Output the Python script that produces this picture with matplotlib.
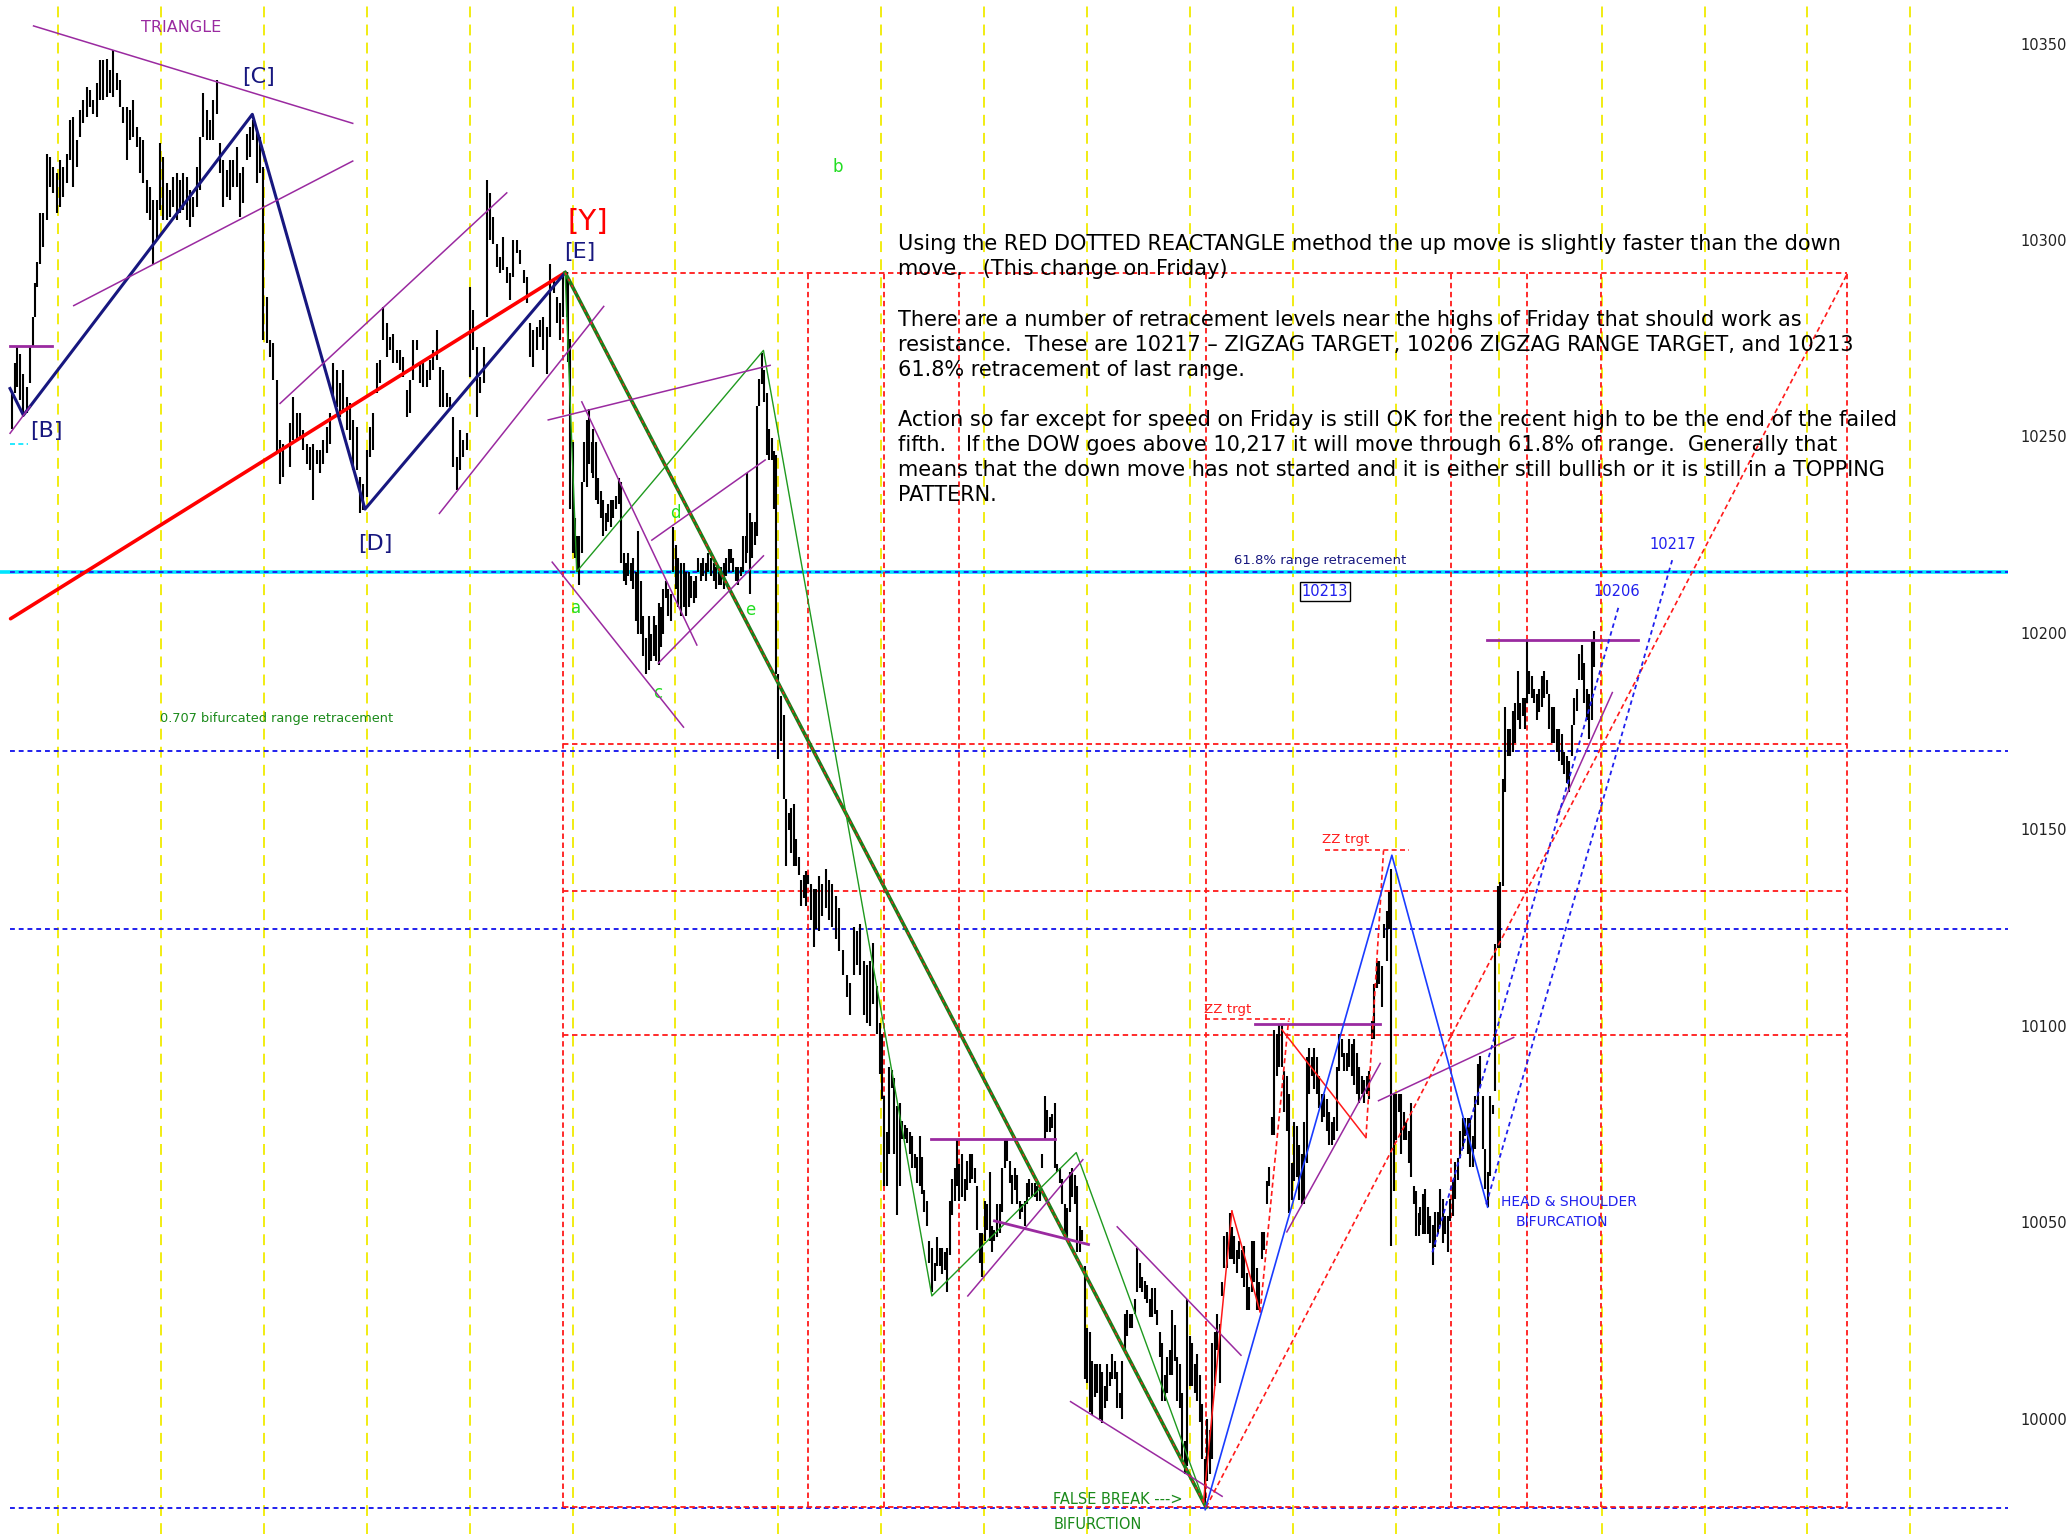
import matplotlib
matplotlib.use("Agg")
import matplotlib.pyplot as plt
import numpy as np

plt.rcParams['font.family'] = ['DejaVu Sans']

# ---------------- price bars (time units, high, low) ----------------
t_a = [8.8, 11.4, 12.6, 15.1, 17.7, 20.2, 22.7, 25.2, 26.5, 27.8,
       30.3, 32.8, 35.3, 37.9, 40.4, 42.9, 45.4, 48.0, 50.5, 53.0,
       55.5, 58.1, 60.6, 63.1, 65.6, 68.1, 70.7, 73.2, 75.7, 78.2,
       80.8, 83.3, 85.8, 88.3, 90.9, 93.4, 95.9, 98.4, 101.0, 103.5,
       106.0, 108.5, 111.1, 113.6, 116.1, 118.6, 121.2, 123.7, 126.2, 128.7,
       131.2, 133.8, 136.3, 138.8, 141.3, 143.9, 146.4, 148.9, 151.4, 154.0,
       156.5, 159.0, 161.5, 164.1, 166.6, 169.1, 171.6, 174.2, 176.7, 179.2,
       181.7, 184.3, 186.8, 189.3, 191.8, 194.3, 196.9, 199.4, 201.9, 204.4,
       207.0, 209.5, 212.0]
high_a = [10261.0, 10268.6, 10272.8, 10271.1, 10266.0, 10262.6, 10272.8, 10280.5, 10289.0, 10294.5,
          10306.8, 10306.8, 10322.0, 10321.2, 10318.7, 10317.0, 10320.4, 10318.7, 10322.0, 10330.5,
          10331.4, 10325.4, 10333.1, 10335.6, 10339.0, 10338.2, 10335.6, 10339.9, 10345.8, 10345.8,
          10346.2, 10343.3, 10348.4, 10342.4, 10340.7, 10333.9, 10333.9, 10333.1, 10335.6, 10328.8,
          10326.3, 10325.4, 10315.3, 10313.6, 10310.2, 10310.2, 10324.6, 10321.2, 10314.4, 10312.7,
          10316.1, 10317.0, 10315.3, 10317.0, 10316.1, 10312.7, 10311.0, 10318.7, 10326.3, 10337.3,
          10333.1, 10330.5, 10335.6, 10340.7, 10324.6, 10320.4, 10317.8, 10320.4, 10320.4, 10323.7,
          10317.0, 10318.7, 10327.1, 10328.8, 10330.5, 10328.0, 10326.3, 10318.7, 10285.6, 10274.5,
          10273.7, 10264.3, 10249.1]
low_a = [10252.0, 10261.0, 10262.6, 10259.3, 10255.0, 10255.9, 10263.5, 10272.8, 10280.5, 10288.1,
         10294.0, 10298.3, 10305.1, 10313.6, 10311.9, 10306.8, 10308.5, 10311.0, 10314.4, 10320.4,
         10313.6, 10318.7, 10326.3, 10329.7, 10331.4, 10333.9, 10332.2, 10331.4, 10335.6, 10335.6,
         10336.5, 10337.3, 10336.5, 10338.2, 10333.9, 10329.7, 10320.4, 10325.4, 10326.3, 10323.7,
         10317.0, 10314.4, 10306.8, 10305.1, 10294.0, 10300.0, 10307.6, 10305.1, 10305.1, 10305.9,
         10308.5, 10305.1, 10306.8, 10307.6, 10305.1, 10303.4, 10305.9, 10308.5, 10312.7, 10326.3,
         10325.4, 10325.4, 10325.4, 10332.2, 10317.0, 10308.5, 10311.0, 10310.2, 10313.6, 10313.6,
         10305.9, 10309.3, 10320.4, 10321.2, 10325.4, 10314.4, 10317.0, 10274.5, 10273.7, 10270.3,
         10264.3, 10245.7, 10238.0]

t_b = [214.5, 219.6, 222.1, 224.6, 227.1, 229.7, 232.2, 234.7, 237.2, 239.8,
       242.3, 244.8, 247.3, 249.9, 252.4, 254.9, 257.4, 260.0, 262.5, 265.0,
       267.5, 270.1, 272.6, 275.1, 277.6, 280.1, 282.7, 285.2, 287.7, 290.2,
       292.8, 295.3, 297.8, 300.3, 302.9, 305.4, 307.9, 310.4, 313.0, 315.5,
       318.0, 320.5, 323.1, 325.6, 328.1, 330.6, 333.2, 335.7, 338.2, 340.7,
       343.2, 345.8, 348.3, 350.8, 353.3, 355.9, 358.4, 360.9, 363.4, 366.0,
       368.5, 371.0, 373.5, 376.1, 378.6, 381.1, 383.6, 386.2, 388.7, 391.2,
       393.7, 396.3, 398.8, 401.3, 403.8, 406.3, 408.9, 411.4, 413.9, 416.4,
       419.0, 421.5, 424.0, 426.5]
high_b = [10248.2, 10253.3, 10260.1, 10255.9, 10255.9, 10251.6, 10248.2, 10247.4, 10248.2, 10246.5,
          10246.5, 10249.1, 10252.5, 10255.9, 10268.6, 10266.9, 10263.5, 10266.9, 10260.1, 10258.4,
          10254.2, 10252.5, 10239.7, 10238.0, 10246.5, 10252.5, 10255.9, 10268.6, 10269.4, 10283.0,
          10278.8, 10275.4, 10276.2, 10272.0, 10272.0, 10270.3, 10261.8, 10264.3, 10274.5, 10274.5,
          10268.6, 10268.6, 10266.9, 10269.4, 10272.0, 10277.1, 10267.7, 10266.9, 10261.0, 10260.1,
          10255.0, 10244.8, 10251.6, 10249.1, 10250.8, 10288.1, 10282.2, 10272.8, 10265.2, 10272.8,
          10315.3, 10311.9, 10305.9, 10299.1, 10295.7, 10300.8, 10293.2, 10291.5, 10300.0, 10300.0,
          10297.4, 10292.4, 10290.7, 10278.8, 10277.1, 10277.9, 10279.6, 10280.5, 10277.9, 10294.0,
          10289.8, 10285.6, 10283.9, 10291.5]
low_b = [10239.7, 10242.3, 10249.1, 10249.1, 10249.9, 10246.5, 10243.1, 10241.4, 10233.8, 10243.1,
         10240.6, 10243.1, 10245.7, 10248.2, 10260.1, 10257.6, 10255.0, 10255.9, 10251.6, 10249.1,
         10241.4, 10241.4, 10230.4, 10231.3, 10234.6, 10244.8, 10246.5, 10261.0, 10263.5, 10274.5,
         10270.3, 10272.0, 10268.6, 10268.6, 10266.9, 10265.2, 10255.0, 10255.9, 10264.3, 10272.0,
         10263.5, 10262.6, 10262.6, 10264.3, 10266.9, 10269.4, 10257.6, 10257.6, 10257.6, 10257.6,
         10242.3, 10236.3, 10241.4, 10244.8, 10246.5, 10265.2, 10272.0, 10255.0, 10261.0, 10263.5,
         10280.5, 10300.0, 10299.1, 10293.2, 10291.5, 10292.4, 10289.0, 10284.7, 10290.7, 10296.6,
         10294.0, 10289.0, 10283.9, 10270.3, 10267.7, 10272.0, 10275.4, 10272.0, 10266.0, 10275.4,
         10286.4, 10278.8, 10274.5, 10280.5]

t_c = [429.0, 430.3, 431.6, 433.6, 435.4, 436.6, 438.4, 440.4, 442.2, 444.2,
       446.2, 448.0, 449.2, 451.3, 453.0, 454.8, 456.8, 458.6, 460.6, 462.4,
       464.4, 466.2, 468.2, 469.9, 472.0, 473.7, 475.7, 477.5, 479.5, 481.3,
       483.3, 485.1, 487.1, 488.9, 490.9, 492.7, 494.7, 496.4, 498.5, 500.2,
       502.2, 504.0, 506.0, 507.8, 509.8, 511.6, 513.6, 515.4, 517.4, 519.2,
       521.2, 522.9, 525.0, 526.7, 528.7, 530.5, 532.5, 534.3, 536.3, 538.1,
       540.1, 541.9, 543.9, 545.7, 547.7, 549.4, 551.5, 553.2, 555.2, 557.0,
       559.0, 560.8, 562.8, 564.6, 565.8, 567.9, 569.6, 571.7, 573.4, 574.9,
       576.7, 578.5, 580.5, 582.3, 584.3, 586.0, 587.6, 589.3, 591.1, 593.1,
       594.9, 596.9, 598.7, 600.7, 602.4, 604.5, 606.2, 608.3, 610.0, 612.0,
       613.8, 615.8, 617.6,
       620.0, 622.5, 625.0, 627.5, 630.0, 632.5, 635.0]
high_c = [10291.8, 10290.6, 10274.7, 10248.6, 10229.3, 10224.7, 10224.7, 10238.3, 10248.6, 10254.3,
          10257.1, 10248.6, 10252.0, 10248.6, 10239.5, 10236.0, 10233.8, 10230.4, 10232.7, 10233.8,
          10233.8, 10234.9, 10239.5, 10238.3, 10220.2, 10217.9, 10220.2, 10217.9, 10219.0, 10215.6,
          10225.9, 10213.3, 10204.2, 10198.6, 10204.2, 10199.7, 10204.2, 10202.0, 10207.7, 10206.5,
          10211.1, 10213.3, 10211.1, 10210.0, 10227.0, 10222.4, 10219.0, 10217.9, 10217.9, 10215.6,
          10215.6, 10214.5, 10213.3, 10214.5, 10219.0, 10217.9, 10219.0, 10217.9, 10220.2, 10219.0,
          10217.9, 10216.8, 10215.6, 10216.8, 10217.9, 10219.0, 10221.3, 10221.3, 10219.0, 10216.8,
          10216.8, 10216.8, 10224.7, 10224.7, 10240.6, 10230.4, 10228.1, 10228.1, 10257.7, 10264.5,
          10271.3, 10266.8, 10261.1, 10252.0, 10249.7, 10246.3, 10245.2, 10189.5, 10183.8, 10179.2,
          10157.7, 10154.2, 10155.4, 10156.5, 10147.4, 10142.9, 10137.2, 10138.3, 10139.5, 10138.3,
          10136.0, 10134.9, 10134.9,
          10138.0, 10136.0, 10140.0, 10137.0, 10136.0, 10133.0, 10130.0]
low_c = [10280.4, 10269.0, 10231.5, 10220.2, 10219.0, 10215.6, 10212.2, 10220.2, 10238.3, 10237.2,
         10242.9, 10240.6, 10239.5, 10233.8, 10232.7, 10229.3, 10224.7, 10225.9, 10228.1, 10227.0,
         10229.3, 10231.5, 10232.7, 10217.9, 10213.3, 10212.2, 10214.5, 10213.3, 10211.1, 10203.1,
         10199.7, 10199.7, 10194.0, 10189.5, 10190.6, 10192.9, 10194.0, 10192.9, 10191.8, 10196.3,
         10199.7, 10208.8, 10204.2, 10203.1, 10215.6, 10211.1, 10206.5, 10204.2, 10206.5, 10204.2,
         10206.5, 10208.8, 10207.7, 10208.8, 10215.6, 10213.3, 10214.5, 10213.3, 10215.6, 10214.5,
         10213.3, 10211.1, 10212.2, 10212.2, 10211.1, 10214.5, 10215.6, 10217.9, 10215.6, 10213.3,
         10212.2, 10214.5, 10215.6, 10217.9, 10220.2, 10210.0, 10219.0, 10222.4, 10224.7, 10257.7,
         10263.4, 10258.8, 10245.2, 10244.0, 10244.0, 10231.5, 10189.5, 10167.9, 10172.4, 10157.7,
         10140.6, 10149.7, 10144.0, 10140.6, 10140.6, 10138.3, 10130.4, 10132.6, 10130.4, 10136.0,
         10127.0, 10120.1, 10124.7,
         10124.0, 10128.0, 10130.0, 10127.0, 10125.0, 10122.0, 10119.0]

t_d = [638.5, 641.0, 643.6, 646.1, 648.6, 651.1, 653.7, 656.2, 658.7, 661.2,
       663.8, 666.3, 667.5, 668.8, 671.3, 673.3, 675.1, 677.1, 678.9, 680.9,
       682.7, 684.7, 686.5, 688.5, 690.3, 692.3, 694.0, 696.1, 697.8, 699.8,
       701.6, 703.6, 705.4, 707.4, 709.2, 711.2, 713.0, 715.0, 716.8, 718.8,
       720.5, 722.6, 724.3, 726.3, 728.1, 730.1, 731.9, 733.9, 735.7, 737.7,
       739.5, 741.5, 743.3, 745.3, 747.0, 749.1, 750.8, 752.8, 754.6, 756.6,
       758.4, 760.4, 762.2, 764.2, 766.0, 768.0, 769.8, 771.8, 773.5, 775.6,
       777.3, 779.3, 781.1, 783.1, 784.9, 786.9, 788.7, 790.7, 792.5, 794.5,
       796.3, 798.3, 800.0, 802.1, 803.8, 805.8, 807.6, 809.6, 811.4, 813.4,
       815.2, 817.2, 819.0, 821.0, 822.8, 824.8, 826.6, 828.6, 830.3, 832.4,
       834.1, 836.1, 837.9, 839.9, 841.7, 843.7, 845.5, 847.5, 849.3, 851.3,
       853.1, 855.1, 856.8, 858.9, 860.6, 862.6, 864.4, 866.4, 868.2, 870.2,
       872.0, 874.0, 875.8, 877.8, 879.6, 881.6, 883.3, 885.4, 887.1, 889.1,
       890.9, 892.9, 894.7, 896.7, 898.5, 900.5, 902.3, 904.3, 906.1, 908.1,
       909.8, 911.9, 913.6, 915.6, 917.4, 919.4, 921.2]
high_d = [10119.2, 10112.8, 10110.9, 10125.0, 10124.0, 10126.0, 10116.5, 10115.5, 10116.5, 10121.0,
          10110.0, 10100.7, 10098.0, 10082.2, 10073.0, 10089.6, 10088.7, 10086.8, 10079.5, 10080.4,
          10075.8, 10074.8, 10073.9, 10073.0, 10072.0, 10067.4, 10066.5, 10072.0, 10066.5, 10058.2,
          10055.4, 10045.2, 10043.4, 10039.7, 10046.1, 10043.4, 10043.4, 10042.4, 10043.4, 10055.4,
          10061.0, 10063.7, 10071.1, 10064.7, 10067.4, 10061.0, 10065.6, 10067.4, 10067.4, 10063.7,
          10059.1, 10047.1, 10047.1, 10055.4, 10054.5, 10062.8, 10048.9, 10048.0, 10054.5, 10054.5,
          10063.7, 10071.1, 10071.1, 10065.6, 10061.9, 10063.7, 10061.9, 10055.4, 10054.5, 10055.4,
          10060.0, 10061.0, 10060.0, 10060.0, 10059.1, 10059.1, 10067.4, 10082.2, 10078.5, 10076.7,
          10077.6, 10080.4, 10064.7, 10063.7, 10061.0, 10054.5, 10053.6, 10062.8, 10063.7, 10061.9,
          10059.1, 10048.9, 10047.9, 10038.7, 10023.0, 10022.1, 10014.7, 10013.8, 10013.8, 10013.8,
          10011.9, 10008.2, 10013.8, 10011.9, 10016.5, 10014.7, 10011.9, 10006.4, 10014.7, 10026.7,
          10027.6, 10026.7, 10026.7, 10030.4, 10043.4, 10039.7, 10035.9, 10035.0, 10034.1, 10030.4,
          10033.2, 10033.2, 10027.6, 10022.1, 10019.3, 10011.0, 10015.6, 10017.5, 10027.6, 10023.9,
          10015.6, 10013.8, 10006.4, 9994.3, 10030.4, 10021.1, 10019.3, 10013.8, 10016.5, 10011.0,
          10003.6, 9989.7, 9999.9, 9997.1, 10019.3, 10022.1, 10026.7]
low_d = [10112.8, 10107.2, 10102.6, 10112.8, 10115.5, 10112.8, 10102.6, 10100.7, 10099.8, 10105.4,
         10098.0, 10087.8, 10081.3, 10059.1, 10059.1, 10067.4, 10084.1, 10067.4, 10051.7, 10059.1,
         10071.1, 10071.1, 10070.2, 10067.4, 10063.7, 10063.7, 10060.0, 10059.1, 10057.2, 10052.6,
         10048.9, 10039.7, 10032.3, 10035.0, 10038.7, 10038.7, 10036.9, 10037.8, 10032.3, 10041.5,
         10051.7, 10055.4, 10059.1, 10055.4, 10056.3, 10055.4, 10058.2, 10060.0, 10061.0, 10060.0,
         10048.0, 10039.7, 10036.0, 10045.2, 10048.0, 10045.2, 10042.4, 10045.2, 10046.1, 10047.1,
         10052.6, 10063.7, 10065.6, 10060.0, 10054.5, 10058.2, 10054.5, 10050.8, 10052.6, 10048.9,
         10054.5, 10056.3, 10056.3, 10056.3, 10055.4, 10055.4, 10063.7, 10071.1, 10073.0, 10073.0,
         10073.9, 10063.7, 10062.8, 10060.0, 10054.5, 10047.1, 10046.1, 10052.6, 10056.3, 10054.5,
         10042.4, 10042.4, 10045.2, 10010.1, 10009.1, 10001.7, 10000.8, 10005.4, 10006.4, 9999.9,
         9998.9, 10002.6, 10004.5, 10008.2, 10010.1, 10010.1, 10002.6, 10002.6, 9999.9, 10017.5,
         10021.1, 10023.0, 10023.0, 10026.7, 10032.3, 10033.2, 10032.3, 10030.4, 10029.5, 10025.8,
         10025.8, 10026.7, 10023.9, 10015.6, 10004.5, 10004.5, 10006.4, 10011.0, 10011.0, 10014.7,
         10004.5, 10002.6, 9989.7, 9986.0, 9987.8, 10008.2, 10008.2, 10006.4, 10004.5, 9999.2,
         9989.7, 9977.6, 9984.1, 9986.0, 9989.7, 10008.2, 10017.5]

t_e = [923.6, 924.9, 926.7, 928.7, 930.7, 932.5, 934.2, 936.3, 938.0, 940.1,
       941.8, 943.8, 945.6, 947.6, 949.4, 951.4, 953.2, 955.2, 957.0, 959.0,
       960.7, 962.8, 964.5, 966.6, 968.3, 970.3, 972.1, 974.1, 975.9, 977.9,
       979.7, 981.7, 983.5, 985.5, 987.2, 989.3, 991.0, 993.1, 994.8, 996.8,
       998.6, 1000.6, 1002.4, 1004.4, 1006.2, 1008.2, 1010.0, 1012.0, 1013.8, 1015.8,
       1017.5, 1019.6, 1021.3, 1023.3, 1025.1, 1027.1, 1028.9, 1030.9, 1032.7, 1034.7,
       1036.5, 1038.5, 1040.3, 1042.3, 1044.0, 1046.1, 1047.8, 1049.8, 1051.6, 1053.1,
       1054.9, 1056.7, 1058.7, 1060.4, 1062.5, 1064.2, 1066.3, 1068.0, 1070.0, 1071.8,
       1073.8]
high_e = [10024.0, 10034.7, 10046.4, 10047.5, 10052.2, 10048.7, 10046.4, 10042.8, 10045.2, 10042.8,
          10044.0, 10037.0, 10033.5, 10045.2, 10045.2, 10038.2, 10034.7, 10047.5, 10047.5, 10060.4,
          10063.9, 10076.7, 10099.0, 10097.8, 10100.1, 10100.1, 10088.4, 10087.3, 10082.6, 10065.1,
          10075.6, 10074.4, 10069.7, 10067.4, 10075.6, 10091.9, 10094.3, 10091.9, 10094.3, 10091.9,
          10087.3, 10082.6, 10082.6, 10081.4, 10077.9, 10075.6, 10076.7, 10089.6, 10097.8, 10096.6,
          10093.1, 10093.1, 10096.6, 10095.4, 10096.6, 10093.1, 10089.6, 10087.3, 10086.1, 10087.3,
          10088.4, 10101.3, 10110.6, 10116.5, 10116.5, 10115.3, 10125.8, 10129.3, 10134.0, 10140.0,
          10082.6, 10082.6, 10082.6, 10082.6, 10077.9, 10075.6, 10073.2, 10080.3, 10059.2, 10058.0,
          10052.2]
low_e = [10009.0, 10031.2, 10038.2, 10038.2, 10040.5, 10040.5, 10039.3, 10037.0, 10040.5, 10035.8,
         10033.5, 10027.7, 10027.7, 10032.3, 10034.7, 10027.7, 10027.7, 10040.5, 10042.8, 10054.5,
         10059.2, 10072.1, 10072.1, 10087.3, 10089.6, 10089.6, 10077.9, 10073.2, 10052.2, 10055.7,
         10060.4, 10061.6, 10055.7, 10054.5, 10054.5, 10065.1, 10082.6, 10087.3, 10083.8, 10082.6,
         10079.1, 10075.6, 10076.7, 10073.2, 10069.7, 10069.7, 10070.9, 10073.2, 10088.4, 10091.9,
         10088.4, 10088.4, 10089.6, 10087.3, 10085.0, 10082.6, 10080.3, 10082.6, 10080.3, 10082.6,
         10081.4, 10096.6, 10096.6, 10109.5, 10110.6, 10104.8, 10122.3, 10116.5, 10124.7, 10044.0,
         10058.0, 10070.9, 10077.9, 10067.4, 10070.9, 10070.9, 10065.1, 10061.6, 10054.5, 10046.4,
         10046.4]

t_f = [1075.1, 1076.9, 1078.9, 1080.7, 1082.7, 1084.5, 1086.5, 1088.3, 1090.3, 1092.1,
       1094.1, 1095.8, 1097.9, 1099.6, 1101.6, 1103.4, 1105.4, 1107.2, 1109.2, 1111.0,
       1113.0, 1114.8, 1116.8, 1118.6, 1120.6, 1122.3, 1124.4, 1126.1, 1128.1, 1129.9,
       1131.9, 1133.7, 1135.7, 1137.5, 1139.5, 1141.3, 1143.3, 1145.1, 1147.1, 1148.8,
       1150.9, 1152.6, 1154.7, 1155.9, 1157.7, 1159.7, 1161.5, 1163.5, 1165.3, 1167.3,
       1169.0, 1171.1, 1172.8, 1174.8, 1176.6, 1178.6, 1180.4, 1182.4, 1184.2, 1186.2,
       1188.0, 1190.0, 1191.8, 1193.8, 1195.5, 1197.6, 1199.3, 1201.3, 1203.1, 1205.1,
       1206.9]
high_f = [10053.8, 10057.2, 10058.3, 10053.8, 10051.5, 10049.2, 10052.6, 10052.6, 10058.3, 10056.0,
          10051.5, 10051.5, 10056.0, 10060.6, 10065.2, 10066.3, 10073.1, 10076.5, 10076.5, 10076.5,
          10076.5, 10072.0, 10082.2, 10090.2, 10092.4, 10082.2, 10068.6, 10062.8, 10082.2, 10079.9,
          10120.8, 10135.6, 10136.7, 10162.9, 10181.1, 10175.4, 10175.4, 10180.0, 10182.2, 10190.2,
          10182.2, 10183.4, 10183.4, 10198.1, 10190.2, 10189.0, 10185.6, 10184.5, 10185.6, 10189.0,
          10190.2, 10187.9, 10184.5, 10181.1, 10181.1, 10175.4, 10175.4, 10174.3, 10169.7, 10168.6,
          10167.4, 10176.5, 10183.4, 10185.6, 10194.7, 10197.0, 10192.4, 10185.6, 10184.5, 10198.1,
          10200.4]
low_f = [10049.2, 10047.0, 10047.0, 10047.0, 10044.7, 10039.0, 10043.6, 10047.0, 10049.2, 10044.7,
         10047.0, 10042.4, 10050.4, 10051.5, 10056.0, 10060.6, 10066.3, 10068.6, 10072.0, 10067.4,
         10064.0, 10064.0, 10068.6, 10079.9, 10084.5, 10068.6, 10058.3, 10053.8, 10061.7, 10077.6,
         10083.3, 10119.7, 10119.7, 10135.6, 10159.5, 10168.6, 10168.6, 10169.7, 10172.0, 10177.7,
         10175.4, 10178.8, 10175.4, 10182.2, 10184.5, 10183.4, 10182.2, 10177.7, 10179.9, 10181.1,
         10183.4, 10184.5, 10175.4, 10172.0, 10172.0, 10169.7, 10167.4, 10166.3, 10164.0, 10161.8,
         10159.5, 10168.6, 10176.5, 10180.0, 10187.9, 10187.9, 10182.2, 10177.7, 10173.1, 10177.7,
         10191.3]

# ---------------- analysis levels ----------------
price_ticks = [10000, 10050, 10100, 10150, 10200, 10250, 10300, 10350]
blue_levels = [10215.5, 10169.8, 10124.5, 9977.2]
box_levels = [10291.5, 10171.8, 10134.3, 10097.7, 9977.4]
box_times = [426.0, 611.5, 669.0, 726.0, 913.0, 1098.0, 1156.0, 1212.0, 1398.5]
day_lines = [43.9, 121.8, 199.7, 277.6, 355.5, 433.4, 511.3, 589.2, 667.1, 745.0,
             822.9, 900.8, 978.7, 1056.6, 1134.5, 1212.4, 1290.3, 1368.2, 1446.1]

wave_t = [7.6, 17.7, 191.0, 276.3, 427.8]
wave_p = [10262.2, 10255.4, 10332.0, 10231.5, 10291.7]
y_line_t = [8.0, 427.8]
y_line_p = [10203.6, 10291.7]
decline_t = [427.8, 913.0]
decline_p = [10291.7, 9977.4]
green_t = [427.8, 436.6, 577.9, 705.4, 814.7, 913.0]
green_p = [10291.7, 10215.6, 10271.9, 10031.2, 10067.7, 9977.4]

# trend lines: (t0, p0, t1, p1)
purple_thin = [(25.4, 10354.5, 267.0, 10329.7), (55.8, 10283.3, 267.0, 10320.1),
               (7.6, 10250.8, 22.7, 10257.6), (212.0, 10258.4, 383.6, 10312.0),
               (332.6, 10230.4, 457.0, 10283.1), (415.0, 10254.2, 583.0, 10268.1),
               (418.0, 10218.0, 517.4, 10176.0), (440.4, 10258.8, 527.5, 10196.9),
               (498.4, 10192.3, 577.9, 10219.6), (493.4, 10223.6, 579.2, 10244.0),
               (732.6, 10031.2, 819.7, 10065.9), (845.7, 10048.8, 939.4, 10016.1),
               (810.4, 10004.3, 925.1, 9980.2), (974.1, 10047.5, 1044.8, 10090.4),
               (1043.5, 10080.9, 1145.8, 10097.0), (1179.0, 10153.6, 1220.5, 10184.8)]
purple_thick = [(7.6, 10273.0, 39.1, 10273.0), (705.0, 10071.1, 798.8, 10071.1),
                (752.8, 10050.3, 824.0, 10044.3), (950.1, 10100.4, 1044.8, 10100.4),
                (1125.6, 10198.2, 1240.0, 10198.2)]
zz_red_solid = [(911.0, 9978.6, 932.5, 10052.8), (932.5, 10052.8, 953.9, 10027.1),
                (970.3, 10099.0, 1034.0, 10071.5)]
zz_red_dashed = [(953.9, 10027.1, 975.4, 10101.3), (1034.0, 10071.5, 1047.3, 10144.6),
                 (912.3, 10101.6, 976.7, 10101.6), (1003.2, 10144.6, 1066.3, 10144.6),
                 (913.0, 9977.4, 1398.5, 10291.5)]
hs_t = [912.3, 1053.6, 1126.1]
hs_p = [9976.8, 10143.4, 10053.8]
fan_blue = [(1084.3, 10042.3, 1225.3, 10206.7), (1125.0, 10054.5, 1265.8, 10218.5)]

note_lines = [
    "Using the RED DOTTED REACTANGLE method the up move is slightly faster than the down",
    "move.   (This change on Friday)",
    "There are a number of retracement levels near the highs of Friday that should work as",
    "resistance.  These are 10217 \u2013 ZIGZAG TARGET, 10206 ZIGZAG RANGE TARGET, and 10213",
    "61.8% retracement of last range.",
    "Action so far except for speed on Friday is still OK for the recent high to be the end of the failed",
    "fifth.   If the DOW goes above 10,217 it will move through 61.8% of range.  Generally that",
    "means that the down move has not started and it is either still bullish or it is still in a TOPPING",
    "PATTERN.",
]
note_p = [10298.9, 10292.5, 10279.7, 10273.3, 10267.0, 10254.2, 10247.8, 10241.4, 10235.0]

# ---------------- figure ----------------
fig = plt.figure(figsize=(20.71, 15.34), dpi=100)
fig.patch.set_facecolor('white')
ax = fig.add_axes([0, 0, 2008 / 2071, 1])
ax.set_xlim(0, 1520)
ax.set_ylim(9970.6, 10361.1)
for s in ax.spines.values():
    s.set_visible(False)
ax.set_xticks([])
ax.yaxis.tick_right()
ax.set_yticks(price_ticks)
ax.set_yticklabels([str(v) for v in price_ticks])
ax.tick_params(axis='y', length=0, pad=9, labelsize=10.5, labelcolor='#222222')

RED = '#ff1a1a'
BLUE = '#2020ee'
PURPLE = '#9a2aa0'
NAVY = '#17177f'

for x in day_lines:
    ax.axvline(x, color='#f0ea00', lw=1.3, ls=(0, (6, 4)), zorder=1)

ax.axhline(10215.5, color='#00e5ff', lw=2.6, zorder=2)
for lv in blue_levels:
    ax.hlines(lv, 7.4, 1520, color=BLUE, lw=1.4, ls=(0, (2.5, 2)), zorder=3)
for lv in box_levels:
    ax.hlines(lv, box_times[0], box_times[-1], color=RED, lw=1.3, ls=(0, (3, 2)), zorder=3)
for x in box_times:
    ax.vlines(x, box_levels[-1], box_levels[0], color=RED, lw=1.3, ls=(0, (3, 2)), zorder=3)

ax.hlines(10248.2, 7.6, 21.5, color='#00e5ff', lw=1.2, ls=(0, (3, 2)), zorder=3)

# bars
bar_t = t_a + t_b + t_c + t_d + t_e + t_f
bar_h = high_a + high_b + high_c + high_d + high_e + high_f
bar_l = low_a + low_b + low_c + low_d + low_e + low_f
ax.vlines(bar_t, bar_l, bar_h, color='black', lw=1.5, zorder=4)

# overlays
ax.plot(y_line_t, y_line_p, color='#ff0000', lw=2.6, zorder=6, solid_capstyle='round')
ax.plot(wave_t, wave_p, color=NAVY, lw=2.2, zorder=6)
ax.plot(decline_t, decline_p, color='#1a7f1a', lw=2.6, zorder=6)
ax.plot(decline_t, decline_p, color=RED, lw=1.0, ls=(0, (2, 3)), zorder=7)
ax.plot(green_t, green_p, color='#1f9a1f', lw=1.0, zorder=6)
for t0, p0, t1, p1 in purple_thin:
    ax.plot([t0, t1], [p0, p1], color=PURPLE, lw=1.1, zorder=6)
for t0, p0, t1, p1 in purple_thick:
    ax.plot([t0, t1], [p0, p1], color=PURPLE, lw=2.0, zorder=6)
for t0, p0, t1, p1 in zz_red_solid:
    ax.plot([t0, t1], [p0, p1], color=RED, lw=1.1, zorder=6)
for t0, p0, t1, p1 in zz_red_dashed:
    ax.plot([t0, t1], [p0, p1], color=RED, lw=1.2, ls=(0, (3, 2)), zorder=6)
ax.plot(hs_t, hs_p, color='#1a3cff', lw=1.2, zorder=6)
for t0, p0, t1, p1 in fan_blue:
    ax.plot([t0, t1], [p0, p1], color=BLUE, lw=1.3, ls=(0, (2.5, 2)), zorder=6)

# labels
ax.text(137, 10354.0, "TRIANGLE", color=PURPLE, fontsize=11.5, ha='center', va='center')
for txt, x, y in [("[C]", 196, 10341.6), ("[B]", 35, 10251.5), ("[D]", 284, 10222.6),
                  ("[E]", 439, 10296.9)]:
    ax.text(x, y, txt, color=NAVY, fontsize=16, ha='center', va='center')
ax.text(445, 10304.6, "[Y]", color='#ff0000', fontsize=21, ha='center', va='center')
for txt, x, y in [("b", 634, 10318.7), ("a", 436, 10206.4), ("c", 498, 10184.6),
                  ("d", 511, 10230.6), ("e", 568, 10205.7)]:
    ax.text(x, y, txt, color='#22dd22', fontsize=12, ha='center', va='center')
ax.text(209, 10178.2, "0.707 bifurcated range retracement", color='#1a8a1a',
        fontsize=9.3, ha='center', va='center')
ax.text(999, 10218.5, "61.8% range retracement", color=NAVY, fontsize=9.5,
        ha='center', va='center')
ax.text(1003, 10210.5, "10213", color=BLUE, fontsize=10.5, ha='center', va='center',
        bbox=dict(boxstyle='square,pad=0.15', fc='white', ec='black', lw=1.0))
ax.text(1224, 10210.5, "10206", color=BLUE, fontsize=10.5, ha='center', va='center')
ax.text(1266, 10222.4, "10217", color=BLUE, fontsize=10.5, ha='center', va='center')
ax.text(929, 10104.2, "ZZ trgt", color=RED, fontsize=9.6, ha='center', va='center')
ax.text(1019, 10147.4, "ZZ trgt", color=RED, fontsize=9.6, ha='center', va='center')
ax.text(1188, 10055.1, "HEAD & SHOULDER", color=BLUE, fontsize=10, ha='center', va='center')
ax.text(1182, 10050.0, "BIFURCATION", color=BLUE, fontsize=10, ha='center', va='center')
ax.text(846, 9979.5, "FALSE BREAK --->", color='#1a8a1a', fontsize=10.5, ha='center', va='center')
ax.text(831, 9973.1, "BIFURCTION", color='#1a8a1a', fontsize=10.5, ha='center', va='center')

for line, p in zip(note_lines, note_p):
    ax.text(680, p, line, color='black', fontsize=15, ha='left', va='center', zorder=8)

fig.savefig("out.png", dpi=100, facecolor='white')
